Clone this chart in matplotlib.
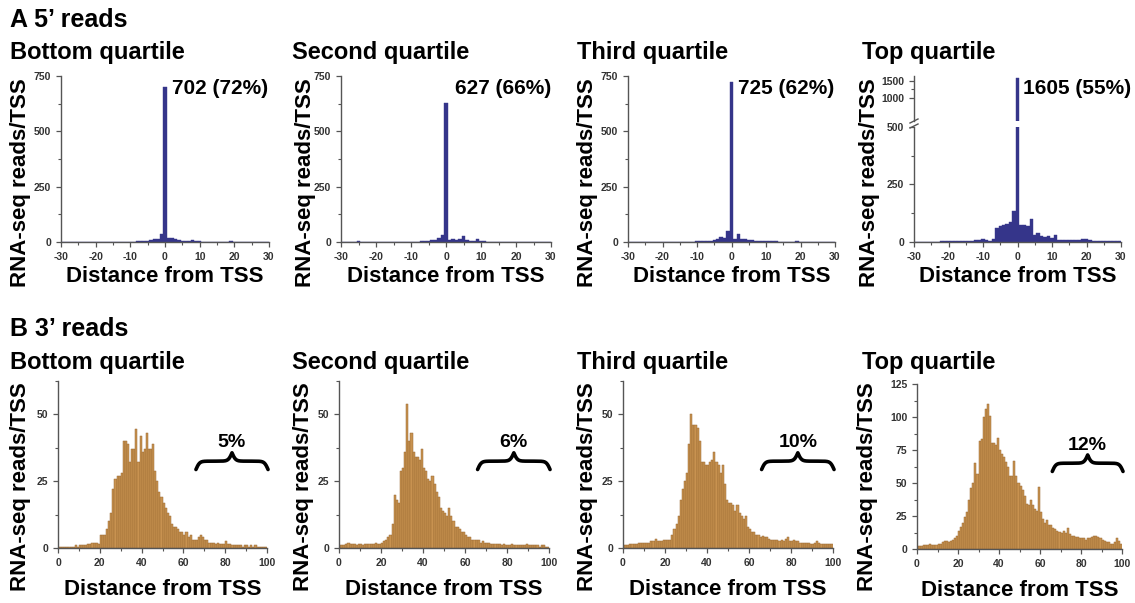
import numpy as np
import matplotlib
matplotlib.use("Agg")
import matplotlib.pyplot as plt
import matplotlib.transforms as mtransforms
from matplotlib.lines import Line2D
from matplotlib.ticker import MultipleLocator, FixedLocator

plt.rcParams['font.family'] = ['Liberation Sans', 'DejaVu Sans']
plt.rcParams['font.weight'] = 'bold'
plt.rcParams['axes.unicode_minus'] = False

# ---------------- data ----------------
titles = ["Bottom quartile", "Second quartile", "Third quartile", "Top quartile"]

# 5' reads: distance -30..30, one bin per nt
offsets_5p = list(range(-30, 31))
reads_5p_bottom = [0, 0, 0, 1, 0, 0, 1, 0, 0, 1, 0, 1, 1, 0, 1, 1, 1, 2, 1, 2,
                   2, 2, 3, 3, 4, 6, 10, 14, 15, 35,
                   702,
                   18, 18, 12, 9, 6, 5, 4, 8, 4, 3,
                   2, 2, 2, 1, 1, 2, 1, 2, 3, 2, 1, 1, 1, 1, 1, 0, 1, 0, 0, 1]
reads_5p_second = [0, 0, 0, 0, 1, 3, 2, 1, 1, 1, 1, 1, 1, 0, 1, 1, 1, 1, 2, 2,
                   2, 2, 2, 3, 5, 6, 8, 10, 18, 30,
                   627,
                   10, 12, 10, 12, 25, 8, 6, 5, 14, 5,
                   3, 2, 2, 1, 1, 1, 1, 1, 1, 1, 1, 0, 1, 1, 0, 1, 0, 0, 1, 0]
reads_5p_third = [1, 1, 1, 1, 1, 1, 1, 1, 1, 1, 1, 1, 1, 2, 1, 2, 2, 2, 2, 2,
                  3, 3, 3, 4, 5, 8, 12, 22, 20, 50,
                  725,
                  15, 35, 15, 15, 10, 8, 6, 5, 4, 5,
                  3, 3, 3, 2, 2, 2, 2, 2, 3, 2, 1, 1, 1, 1, 1, 1, 1, 1, 1, 1]
reads_5p_top = [2, 2, 2, 2, 2, 2, 2, 2, 3, 3, 3, 3, 4, 4, 4, 5, 6, 6, 8, 8,
                12, 8, 6, 12, 62, 70, 75, 78, 88, 135,
                1605,
                75, 72, 68, 100, 32, 38, 24, 21, 24, 17,
                30, 10, 9, 8, 8, 10, 8, 9, 14, 12, 8, 6, 5, 5, 4, 4, 3, 3, 4, 4]
peak_labels = ["702 (72%)", "627 (66%)", "725 (62%)", "1605 (55%)"]

# 3' reads: distance 0..99, one bin per nt
offsets_3p = list(range(0, 100))
reads_3p_bottom = [0.5, 0.5, 0.5, 0.5, 0.5, 0.5, 0.5, 0.5, 1, 0.5,
                   1, 1, 1, 1, 1.5, 1.5, 2, 2, 2, 1.5,
                   5, 5, 5, 7, 10, 13, 22, 26, 27, 27,
                   28, 40, 40, 39, 32, 37, 37, 44.5, 32, 42,
                   36, 37, 43, 37, 37, 39, 29, 25, 21, 19,
                   17, 15, 13, 12, 9, 8, 8, 7, 6, 6,
                   5, 6, 4, 5, 3, 3, 3, 4, 5, 4,
                   3, 3, 2, 2, 2, 1.5, 2, 1.5, 1.5, 1.5,
                   2.5, 1.5, 1.5, 1, 1, 1, 1, 1, 0.5, 1,
                   1, 0.5, 1, 0.5, 1, 0.5, 0.5, 0.5, 0.5, 0.5]
reads_3p_second = [1, 1, 1, 1.5, 2, 1.5, 1.5, 1.5, 1, 1.5,
                   1.5, 1, 1.5, 1.5, 1.5, 1.5, 1.5, 2, 1.5, 1.5,
                   2, 2.5, 3, 4, 5, 9, 20, 18, 17, 29,
                   30, 36, 54, 40, 43, 36, 34, 34, 33, 37,
                   30, 29, 26, 25, 27, 24, 21, 19, 15, 14,
                   13, 12, 15, 12, 10, 8, 8, 7, 6, 6,
                   5, 4, 4, 3, 3, 3, 3, 2, 2.5, 2,
                   2, 2, 1.5, 1.5, 1.5, 1.5, 1.5, 1, 1.5, 1,
                   1, 1, 1.5, 1, 1, 1, 1, 1, 1, 1.5,
                   1, 1, 1, 1, 1, 0.5, 1, 1, 0.5, 0.5]
reads_3p_third = [1, 1, 1, 1.5, 1.5, 1.5, 1.5, 2, 2, 2,
                  2, 2, 2, 2.5, 2.5, 3.5, 2.5, 2.5, 2.5, 3,
                  3, 3, 3, 5, 7, 9, 12, 18, 22, 25,
                  28, 39, 50, 46, 46, 45, 40, 32, 32, 31,
                  31, 32, 33, 36, 32, 31, 28, 31, 24, 18,
                  17, 17, 16, 14, 16, 13, 12, 11, 12, 8,
                  7, 6, 6, 5, 5, 4, 4.5, 4, 4, 3.5,
                  3, 3, 3, 3, 2.5, 3, 2.5, 3.5, 4, 2.5,
                  2.5, 3, 2.5, 2.5, 2, 2, 2, 2, 2, 1.5,
                  1.5, 2, 2.5, 2, 1.5, 1.5, 1.5, 1.5, 1.5, 1.5]
reads_3p_top = [2, 2, 2, 3, 3, 3, 4, 3, 3, 3,
                4, 4, 5, 6, 6, 5, 6, 7, 8, 10,
                14, 17, 20, 24, 28, 37, 46, 50, 65, 57,
                82, 83, 100, 106, 110, 101, 80, 80, 79, 84,
                75, 72, 70, 66, 62, 55, 55, 67, 55, 50,
                48, 45, 40, 34, 33, 37, 33, 30, 29, 47,
                28, 23, 20, 22, 18, 18, 16, 15, 14, 13,
                12, 14, 12, 16, 11, 10, 10, 9, 9, 8,
                8, 8, 7, 8, 8, 9, 10, 10, 9, 8,
                7, 6, 5, 5, 4, 4, 5, 8, 6, 4]
tail_labels = ["5%", "6%", "10%", "12%"]
tail_start = 66

reads_5p = [reads_5p_bottom, reads_5p_second, reads_5p_third, reads_5p_top]
reads_3p = [reads_3p_bottom, reads_3p_second, reads_3p_third, reads_3p_top]

# ---------------- layout ----------------
W, H = 1135, 603
NAVY = '#35358a'
TAN = '#c89250'
TAN_EDGE = '#9a6a33'
SPINE = '#555555'

fig = plt.figure(figsize=(W / 100, H / 100), dpi=100)


def px_axes(x0, x1, ytop, ybot):
    return fig.add_axes([x0 / W, 1 - ybot / H, (x1 - x0) / W, (ybot - ytop) / H])


def style(ax):
    for s in ['top', 'right']:
        ax.spines[s].set_visible(False)
    for s in ['left', 'bottom']:
        ax.spines[s].set_color(SPINE)
        ax.spines[s].set_linewidth(1.0)
    ax.tick_params(which='both', direction='out', colors=SPINE,
                   labelcolor='#333333', labelsize=7.5)
    ax.tick_params(which='major', length=3.5, width=0.9)
    ax.tick_params(which='minor', length=2, width=0.8)


def place_ylabel(ax, x0, x1, ytop, ybot, cx, cy):
    # label centre given in figure pixels
    ax.set_ylabel("RNA-seq reads/TSS", fontsize=16, fontweight='bold')
    ax.yaxis.label.set_va('center')
    ax.yaxis.set_label_coords((cx - x0) / (x1 - x0), (ybot - cy) / (ybot - ytop))


def curly_brace(ax, x0, x1, y0, height, beta=40):
    trans = mtransforms.blended_transform_factory(ax.transData, ax.transAxes)
    t = np.linspace(0, 1, 301)
    half = t[:151]
    yh = 1 / (1 + np.exp(-beta * (half - half[0]))) + 1 / (1 + np.exp(-beta * (half - half[-1])))
    yf = np.concatenate([yh, yh[-2::-1]])
    yf = (yf - yf.min()) / (yf.max() - yf.min())
    ax.plot(x0 + t * (x1 - x0), y0 + yf * height, transform=trans,
            color='black', lw=2.6, solid_capstyle='round', clip_on=False)


top_boxes = [(61, 269), (341, 551), (628, 835), (914, 1121)]
bot_boxes = [(58, 267), (339, 549), (623, 833), (917, 1122)]
title_x = [10, 292, 577, 862]
peak_x = [2.0, 2.6, 1.9, 1.6]
ylab_top_x = [21, 305, 588, 870]
ylab_bot_x = [21, 303, 588, 868]

fig.text(10 / W, 1 - 27 / H, "A 5\u2019 reads", fontsize=18, fontweight='bold', va='baseline')
fig.text(10 / W, 1 - 336 / H, "B 3\u2019 reads", fontsize=18, fontweight='bold', va='baseline')

# ---------- row A ----------
for i in range(4):
    x0, x1 = top_boxes[i]
    fig.text(title_x[i] / W, 1 - 59 / H, titles[i], fontsize=17, fontweight='bold', va='baseline')
    if i < 3:
        ytop = 76
        ax = px_axes(x0, x1, ytop, 242)
        ax.bar(offsets_5p, reads_5p[i], width=1.0, color=NAVY, edgecolor=NAVY, linewidth=0.3)
        ax.set_ylim(0, 750)
        ax.yaxis.set_major_locator(MultipleLocator(250))
        ax.yaxis.set_minor_locator(MultipleLocator(125))
    else:
        ytop = 127
        ax = px_axes(x0, x1, ytop, 242)
        ax_up = px_axes(x0, x1, 76, 121)
        ax_up.patch.set_visible(False)
        for a in (ax, ax_up):
            a.bar(offsets_5p, reads_5p[i], width=1.0, color=NAVY, edgecolor=NAVY, linewidth=0.3)
            a.set_xlim(-30, 30)
        ax.set_ylim(0, 500)
        ax.yaxis.set_major_locator(MultipleLocator(250))
        ax.yaxis.set_minor_locator(MultipleLocator(125))
        ax_up.set_ylim(300, 1650)
        ax_up.yaxis.set_major_locator(FixedLocator([1000, 1500]))
        ax_up.yaxis.set_minor_locator(FixedLocator([1250]))
        style(ax_up)
        ax_up.spines['bottom'].set_visible(False)
        ax_up.tick_params(axis='x', which='both', bottom=False, labelbottom=False)
        # break marks on the y axis
        for yy in (121, 126):
            fig.add_artist(Line2D([(x0 - 4) / W, (x0 + 4) / W],
                                  [1 - (yy + 2) / H, 1 - (yy - 2) / H],
                                  color=SPINE, lw=1.0))
    ax.set_xlim(-30, 30)
    ax.xaxis.set_major_locator(MultipleLocator(10))
    ax.xaxis.set_minor_locator(MultipleLocator(5))
    style(ax)
    ax.set_xlabel("Distance from TSS", fontsize=16, fontweight='bold', labelpad=3)
    place_ylabel(ax, x0, x1, ytop, 242, ylab_top_x[i], 183)
    tr = mtransforms.blended_transform_factory(ax.transData, fig.transFigure)
    fig.text(peak_x[i], 1 - 88 / H, peak_labels[i], transform=tr, fontsize=15,
             fontweight='bold', ha='left', va='center')

# ---------- row B ----------
for i in range(4):
    x0, x1 = bot_boxes[i]
    fig.text(title_x[i] / W, 1 - 369 / H, titles[i], fontsize=17, fontweight='bold', va='baseline')
    if i < 3:
        ytop, ybot = 381, 548
        ax = px_axes(x0, x1, ytop, ybot)
        ax.set_ylim(0, 62.5)
    else:
        ytop, ybot = 384, 549
        ax = px_axes(x0, x1, ytop, ybot)
        ax.set_ylim(0, 125)
    ax.yaxis.set_major_locator(MultipleLocator(25))
    ax.yaxis.set_minor_locator(MultipleLocator(12.5))
    ax.bar(offsets_3p, reads_3p[i], width=1.0, align='edge', color=TAN,
           edgecolor=TAN_EDGE, linewidth=0.35)
    ax.set_xlim(0, 100)
    ax.xaxis.set_major_locator(MultipleLocator(20))
    ax.xaxis.set_minor_locator(MultipleLocator(10))
    style(ax)
    ax.set_xlabel("Distance from TSS", fontsize=16, fontweight='bold', labelpad=8)
    place_ylabel(ax, x0, x1, ytop, ybot, ylab_bot_x[i], 487)
    curly_brace(ax, tail_start, 100.5, 0.47, 0.10)
    ax.text((tail_start + 100.5) / 2, 0.63, tail_labels[i], transform=ax.get_xaxis_transform(),
            fontsize=14, fontweight='bold', ha='center', va='center')

fig.savefig("out.png", dpi=100)
